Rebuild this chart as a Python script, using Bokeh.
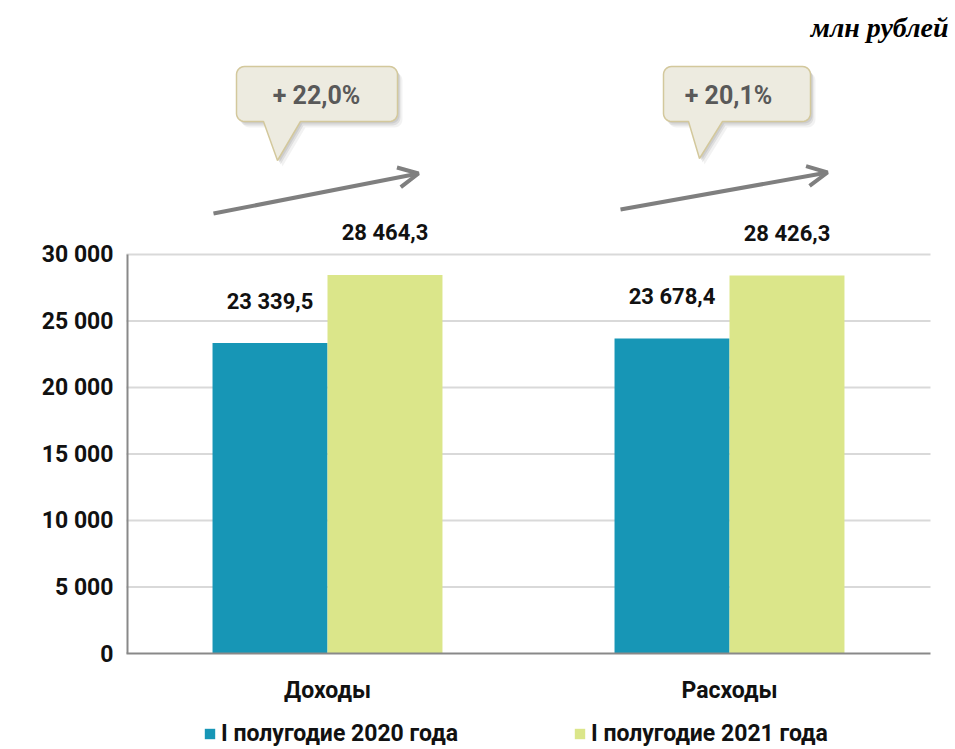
import numpy as np
from bokeh.plotting import figure
from bokeh.models import (ColumnDataSource, Range1d, Legend, LegendItem, Label,
                          Arrow, OpenHead, Grid)
from bokeh.transform import dodge
from bokeh.core.properties import value
from bokeh.embed import file_html
from bokeh.resources import INLINE

# ---------------- data ----------------
categories = ["Доходы", "Расходы"]
series_names = ["I полугодие 2020 года", "I полугодие 2021 года"]
values_2020 = [23339.5, 23678.4]
values_2021 = [28464.3, 28426.3]
growth_labels = ["+ 22,0%", "+ 20,1%"]
y_ticks = [0, 5000, 10000, 15000, 20000, 25000, 30000]
y_tick_labels = ["0", "5 000", "10 000", "15 000", "20 000", "25 000", "30 000"]
unit_label = "млн рублей"
colors = ["#1796B6", "#DBE68A"]

FONT = "Roboto"

# ---------------- layout (page pixels) ----------------
W, H = 955, 749
FL, FR, FB = 126, 930, 653          # plot area left / right / bottom on the page
PX_PER_UNIT_Y = 399 / 30000
PX_PER_CAT = (FR - FL) / len(categories)


def X(px):
    return (px - FL) / PX_PER_CAT


def Y(py):
    return (FB - py) / PX_PER_UNIT_Y


def fmt(v):
    return f"{v:,.1f}".replace(",", " ").replace(".", ",")


p = figure(x_range=Range1d(X(0), X(W)), y_range=Range1d(Y(H), Y(0)),
           width=W, height=H, output_backend="svg", toolbar_location=None,
           x_axis_location=None, y_axis_location=None,
           min_border_left=0, min_border_right=0, min_border_top=0,
           min_border_bottom=0)
p.outline_line_color = None
p.background_fill_color = "white"
p.border_fill_color = "white"
for r in p.center:
    if isinstance(r, Grid):
        r.visible = False

cat_x = [i + 0.5 for i in range(len(categories))]
src = ColumnDataSource(dict(x=cat_x, cat=categories, v2020=values_2020,
                            v2021=values_2021,
                            l2020=[fmt(v) for v in values_2020],
                            l2021=[fmt(v) for v in values_2021]))

# gridlines and axis lines
grid_ticks = [t for t in y_ticks if t > 0]
p.segment(x0=[X(FL)] * len(grid_ticks), x1=[X(FR)] * len(grid_ticks),
          y0=grid_ticks, y1=grid_ticks, line_color="#D9D9D9", line_width=2)

BW = 0.286
r1 = p.vbar(x=dodge("x", -BW / 2), top="v2020", width=BW, source=src,
            fill_color=colors[0], line_color=None)
r2 = p.vbar(x=dodge("x", BW / 2), top="v2021", width=BW, source=src,
            fill_color=colors[1], line_color=None)

p.segment(x0=[X(127)], y0=[0], x1=[X(127)], y1=[y_ticks[-1]],
          line_color="#898989", line_width=2)
p.segment(x0=[X(FL)], y0=[0], x1=[X(FR)], y1=[0],
          line_color="#898989", line_width=2)

# value labels
for col, lab, off in (("v2020", "l2020", -BW / 2), ("v2021", "l2021", BW / 2)):
    p.text(x=dodge("x", off), y=col, text=lab, source=src,
           y_offset=-42, text_align="center", text_baseline="middle",
           text_font=value(FONT), text_font_style="bold", text_font_size="22px",
           text_color="#111111")

# y tick labels
p.text(x=[X(113)] * len(y_ticks), y=y_ticks, text=y_tick_labels,
       text_align="right", text_baseline="middle", text_font=value(FONT),
       text_font_style="bold", text_font_size="23px", text_color="#111111")

# category labels
p.text(x="x", y=Y(690), text="cat", source=src,
       text_align="center", text_baseline="middle", text_font=value(FONT),
       text_font_style="bold", text_font_size="23px", text_color="#111111")


# callouts
def callout_path(x0, y0, x1, y1, tb0, tb1, tipx, tipy, r=8, dx=0, dy=0):
    pts = []

    def arc(cx, cy, a0, a1):
        for a in np.linspace(a0, a1, 8):
            pts.append((cx + r * np.cos(a), cy + r * np.sin(a)))

    arc(x0 + r, y0 + r, np.pi, 1.5 * np.pi)
    arc(x1 - r, y0 + r, 1.5 * np.pi, 2 * np.pi)
    arc(x1 - r, y1 - r, 0, 0.5 * np.pi)
    pts += [(tb1, y1), (tipx, tipy), (tb0, y1)]
    arc(x0 + r, y1 - r, 0.5 * np.pi, np.pi)
    return [X(a + dx) for a, b in pts], [Y(b + dy) for a, b in pts]


callouts = [
    dict(box=(236, 66, 397, 121), tail=(263, 300, 277, 160), text=(316, 95),
         arrow=(213, 213, 418, 173)),
    dict(box=(663, 66, 810, 121), tail=(688, 722, 699, 158), text=(728, 95),
         arrow=(620, 209, 827, 172)),
]

for c, g in zip(callouts, growth_labels):
    x0, y0, x1, y1 = c["box"]
    tb0, tb1, tx, ty = c["tail"]
    for dx, dy, a in ((5, 6, 0.05), (3, 4, 0.08), (2, 2, 0.08)):
        xs, ys = callout_path(x0, y0, x1, y1, tb0, tb1, tx, ty, dx=dx, dy=dy)
        p.patch(xs, ys, fill_color="#000000", fill_alpha=a, line_color=None)
    xs, ys = callout_path(x0, y0, x1, y1, tb0, tb1, tx, ty)
    p.patch(xs, ys, fill_color="#EDEBE0", line_color="#D3C89C", line_width=1.5)
    p.add_layout(Label(x=X(c["text"][0]), y=Y(c["text"][1]), text=g,
                       text_align="center", text_baseline="middle",
                       text_font=FONT, text_font_style="bold",
                       text_font_size="25px", text_color="#595959"))
    ax0, ay0, ax1, ay1 = c["arrow"]
    p.add_layout(Arrow(end=OpenHead(size=20, line_color="#7F7F7F", line_width=4),
                       x_start=X(ax0), y_start=Y(ay0), x_end=X(ax1), y_end=Y(ay1),
                       line_color="#7F7F7F", line_width=4))

p.add_layout(Label(x=X(948), y=Y(27), text=unit_label, text_align="right",
                   text_baseline="middle", text_font="Liberation Serif",
                   text_font_style="bold italic", text_font_size="28px",
                   text_color="#000000"))

legend = Legend(items=[LegendItem(label=series_names[0], renderers=[r1]),
                       LegendItem(label=series_names[1], renderers=[r2])],
                location=(203, 2), orientation="horizontal",
                spacing=115, label_standoff=5, glyph_width=13, glyph_height=13,
                padding=0, margin=0, border_line_color=None,
                background_fill_alpha=0,
                label_text_font=FONT, label_text_font_style="bold",
                label_text_font_size="23px", label_text_color="#111111")
p.add_layout(legend)

open("out.html", "w").write(file_html(p, INLINE))
